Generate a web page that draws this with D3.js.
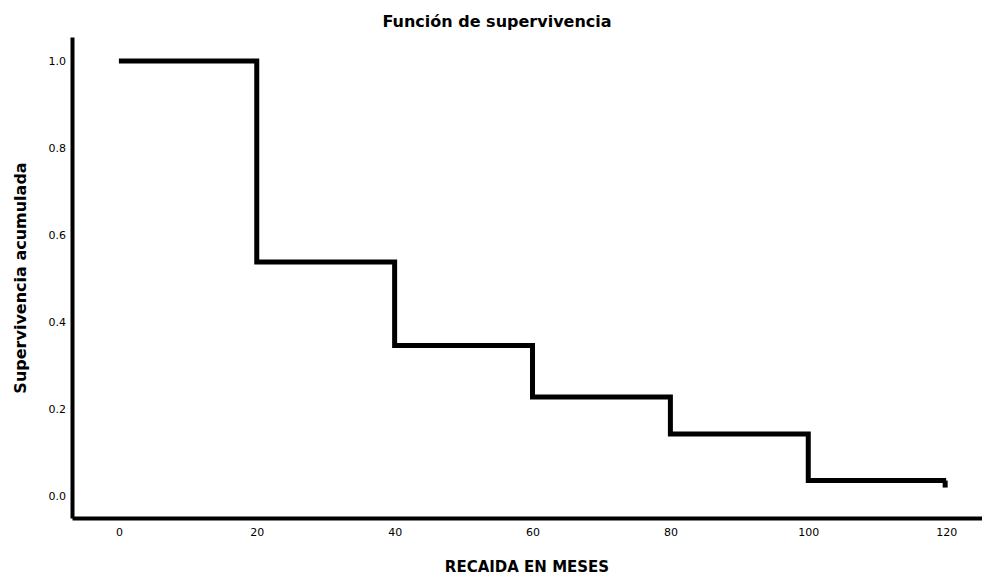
<!DOCTYPE html>
<html>
<head>
	<meta charset="utf-8">
	<title>Función de supervivencia</title>
	<style>
		body { margin: 0; background: #fff; }
		text { fill: #000; }
	</style>
</head>
<body>
	<svg width="982" height="576"></svg>
<script src="https://cdn.jsdelivr.net/npm/d3@7"></script>
<script>
	// tiempos (meses) y supervivencia acumulada
	const tiempos = [0, 20, 40, 60, 80, 100, 120]
	const supervivencia = [1.0, 0.538, 0.346, 0.228, 0.143, 0.036, 0.036]
	const censuras = [120]
	const xTicks = [0, 20, 40, 60, 80, 100, 120]
	const yTicks = [0.0, 0.2, 0.4, 0.6, 0.8, 1.0]

	const svg = d3.select("svg")
	const mLeft = 72, mRight = 982, mTop = 37, mBottom = 518

	const x = d3.scaleLinear().domain([-6.8, 125.2]).range([mLeft, mRight])
	const y = d3.scaleLinear().domain([-0.05, 1.055]).range([mBottom, mTop])

	// título
	svg.append("text")
		.attr("x", 497).attr("y", 27)
		.attr("text-anchor", "middle")
		.style("font-family", "'DejaVu Sans', sans-serif")
		.style("font-weight", "bold").style("font-size", "16px")
		.text("Función de supervivencia")

	// ejes
	const gx = svg.append("g").attr("transform", `translate(0, ${mBottom})`)
		.call(d3.axisBottom(x).tickValues(xTicks).tickSize(0).tickPadding(10).tickFormat(d3.format("d")))
	const gy = svg.append("g").attr("transform", `translate(${mLeft}, 0)`)
		.call(d3.axisLeft(y).tickValues(yTicks).tickSize(0).tickPadding(6).tickFormat(d3.format(".1f")))

	;[gx, gy].forEach(g => {
		g.select(".domain").attr("stroke", "#000").attr("stroke-width", 4)
		g.selectAll("text").style("font-family", "'DejaVu Sans', sans-serif").style("font-size", "11px")
	})

	// etiquetas de ejes
	svg.append("text")
		.attr("x", 527).attr("y", 572)
		.attr("text-anchor", "middle")
		.style("font-family", "'DejaVu Sans', sans-serif")
		.style("font-weight", "bold").style("font-size", "15px")
		.text("RECAIDA EN MESES")

	svg.append("text")
		.attr("transform", "translate(26, 278) rotate(-90)")
		.attr("text-anchor", "middle")
		.style("font-family", "'DejaVu Sans', sans-serif")
		.style("font-weight", "bold").style("font-size", "16px")
		.text("Supervivencia acumulada")

	// curva escalonada
	const datos = tiempos.map((t, i) => ({ t, s: supervivencia[i] }))
	const linea = d3.line().x(d => x(d.t)).y(d => y(d.s)).curve(d3.curveStepAfter)

	svg.append("path")
		.datum(datos)
		.attr("d", linea)
		.attr("fill", "none").attr("stroke", "#000")
		.attr("stroke-width", 5)
		.attr("stroke-linejoin", "miter")

	// marcas de censura
	svg.selectAll("line.censura").data(censuras).enter().append("line")
		.attr("class", "censura")
		.attr("x1", d => x(d) - 1).attr("x2", d => x(d) - 1)
		.attr("y1", d => y(supervivencia[tiempos.indexOf(d)]))
		.attr("y2", d => y(supervivencia[tiempos.indexOf(d)]) + 7)
		.attr("stroke", "#000").attr("stroke-width", 5)
</script>
</body>
</html>
